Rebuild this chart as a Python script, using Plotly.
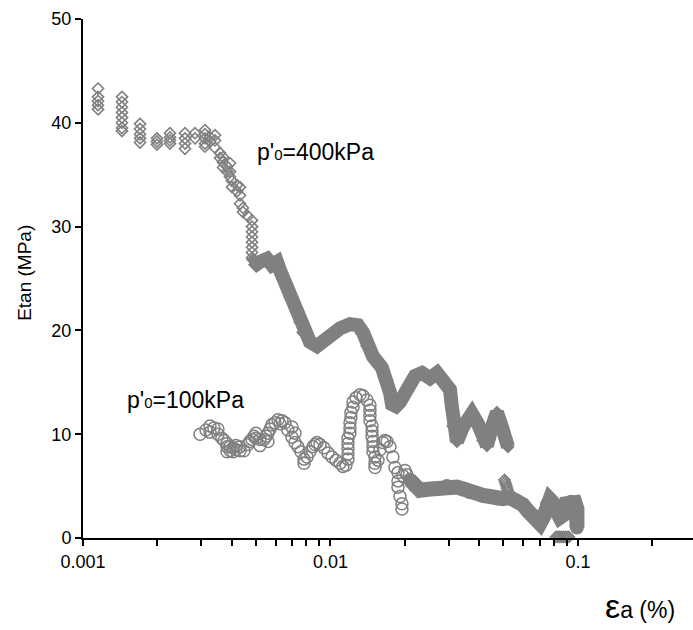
import plotly.graph_objects as go

# ---------------- data ----------------
# p'0 = 400 kPa : individual readings (early, sparse part)
p400_sparse_strain = [
    0.00115, 0.00115, 0.00115, 0.00115, 0.00115,
    0.001437, 0.001437, 0.001437, 0.001437, 0.001437, 0.001437, 0.001437, 0.001437,
    0.0017, 0.0017, 0.0017, 0.0017, 0.0017,
    0.00199, 0.00199, 0.00199,
    0.002246, 0.002246, 0.002246, 0.002246,
    0.002583, 0.002583, 0.002583, 0.002583,
    0.002835, 0.002835,
    0.003111, 0.003111, 0.003111, 0.003111, 0.003111,
    0.00326, 0.00326,
    0.003415, 0.003415, 0.003415,
    0.003577, 0.003577,
    0.003679, 0.003679, 0.003679,
    0.003818, 0.003818,
    0.003926, 0.003926, 0.003926,
    0.0040, 0.0040,
    0.00419, 0.00419,
    0.00431, 0.00431, 0.00431,
    0.00443, 0.00443,
    0.00464,
    0.00482, 0.00482, 0.00482, 0.00482, 0.00482, 0.00482, 0.00482, 0.00482,
    0.0505, 0.0508, 0.0511, 0.0514, 0.0517, 0.0520, 0.0523,
    0.0815, 0.0830, 0.0845, 0.0860, 0.0875, 0.0890, 0.0905, 0.0920,
]
p400_sparse_E = [
    43.3, 42.5, 42.1, 41.7, 41.3,
    42.5, 42.0, 41.5, 41.0, 40.5, 40.0, 39.5, 39.2,
    39.9, 39.4, 38.9, 38.5, 38.1,
    38.5, 38.2, 37.9,
    39.0, 38.6, 38.3, 38.0,
    39.0, 38.5, 38.0, 37.5,
    39.0, 38.5,
    39.3, 38.9, 38.5, 38.0, 37.7,
    38.6, 38.2,
    38.8, 38.3, 37.6,
    37.1, 36.6,
    36.7, 36.2, 35.7,
    35.8, 35.3,
    36.1, 35.3, 34.8,
    34.4, 33.8,
    34.0, 33.4,
    33.8, 33.0, 32.2,
    31.8, 31.4,
    31.0,
    30.6, 30.0, 29.5, 29.0, 28.5, 28.0, 27.5, 27.0,
    5.6, 5.4, 5.2, 5.0, 4.8, 4.6, 4.4,
    0.1, 0.1, 0.1, 0.1, 0.1, 0.1, 0.1, 0.1,
]

# p'0 = 400 kPa : dense part (readings overlap into a continuous band)
p400_dense_strain = [
    0.00486, 0.00505, 0.00519, 0.00554, 0.00580, 0.00608, 0.00625, 0.00655,
    0.00686, 0.00732, 0.00753, 0.00774, 0.00826, 0.00882, 0.00933, 0.00995,
    0.01093, 0.01199, 0.01292, 0.01353, 0.01404, 0.01485, 0.01615, 0.01692,
    0.01740, 0.01772, 0.01839, 0.01910, 0.02038, 0.02195, 0.02343, 0.02523,
    0.02694, 0.02848, 0.03040, 0.03097, 0.03126, 0.03245, 0.03431, 0.03730,
    0.03945, 0.04133, 0.04289, 0.04493, 0.04707, 0.04931, 0.05165, 0.05213,
]
p400_dense_E = [
    26.8, 26.4, 26.6, 26.9, 26.3, 26.6, 25.8, 24.6,
    23.2, 22.0, 20.8, 19.8, 18.9, 18.5, 19.0, 19.6,
    20.2, 20.6, 20.5, 19.8, 18.5, 17.5, 16.4, 15.2,
    14.0, 12.9, 12.7, 13.1, 14.3, 15.6, 15.9, 15.4,
    15.9, 15.2, 14.3, 12.6, 10.8, 9.3, 10.7, 12.0,
    11.0, 9.4, 8.9, 10.7, 12.1, 10.7, 9.2, 8.8,
]

# p'0 = 100 kPa : individual readings
p100_sparse_strain = [
    0.00297, 0.00314, 0.00326, 0.00326, 0.00338, 0.00351, 0.00351, 0.00364,
    0.00372, 0.00382, 0.00382, 0.00382, 0.00393, 0.00393, 0.00404, 0.00404,
    0.00415, 0.00415, 0.00431, 0.00431, 0.00447, 0.00464, 0.00472, 0.00482,
    0.00491, 0.00500, 0.00500, 0.00519, 0.00519, 0.00539, 0.00550, 0.00559,
    0.00559, 0.00570, 0.00580, 0.00597, 0.00614, 0.00625, 0.00637, 0.00655,
    0.00673, 0.00699, 0.00699, 0.00719, 0.00719, 0.00739, 0.00760, 0.00782,
    0.00782, 0.00804, 0.00826, 0.00850, 0.00866, 0.00882, 0.00907, 0.00941,
    0.00977, 0.01014, 0.01053, 0.01093, 0.01123, 0.01155, 0.01177, 0.01177,
    0.01177, 0.01177, 0.01177, 0.01199, 0.01199, 0.01199, 0.01210, 0.01210,
    0.01233, 0.01233, 0.01268, 0.01316, 0.01353, 0.01404, 0.01444, 0.01444,
    0.01444, 0.01444, 0.01472, 0.01472, 0.01472, 0.01485, 0.01485, 0.01485,
    0.01513, 0.01513, 0.01513, 0.01556, 0.01585, 0.01630, 0.01660, 0.01692,
    0.01740, 0.01788, 0.01822, 0.01874, 0.01874, 0.01874, 0.01910, 0.01945,
    0.01945, 0.01964, 0.02000, 0.02038, 0.02095,
]
p100_sparse_E = [
    10.0, 10.4, 10.8, 10.2, 10.6, 10.5, 10.0, 9.6,
    9.4, 9.1, 8.8, 8.3, 8.8, 8.4, 8.3, 8.7,
    8.5, 8.9, 8.8, 8.4, 8.4, 9.0, 9.3, 9.5,
    9.8, 10.1, 9.6, 9.5, 8.9, 9.5, 9.8, 10.1,
    9.3, 10.5, 10.9, 11.1, 11.4, 11.0, 11.3, 11.1,
    10.4, 10.7, 9.7, 10.1, 9.2, 8.8, 8.3, 7.6,
    7.2, 7.8, 8.3, 8.8, 9.0, 9.2, 9.0, 8.7,
    8.2, 7.8, 7.5, 7.2, 6.9, 7.0, 7.6, 8.1,
    8.6, 9.1, 9.6, 10.1, 10.6, 11.1, 11.6, 12.1,
    12.6, 13.1, 13.5, 13.8, 13.7, 13.3, 12.8, 12.3,
    11.8, 11.3, 10.8, 10.3, 9.8, 9.3, 8.8, 8.3,
    7.8, 7.2, 6.8, 7.5, 8.5, 9.2, 9.4, 9.3,
    8.8, 7.8, 6.8, 6.3, 5.5, 4.9, 4.0, 3.3,
    2.8, 6.0, 6.5, 6.1, 5.6,
]

# p'0 = 100 kPa : dense part
p100_dense_strain = [
    0.02095, 0.02195, 0.02299, 0.02477, 0.02694, 0.02956, 0.03245, 0.03463,
    0.03661, 0.03907, 0.04133, 0.04410, 0.04707, 0.04977, 0.05311, 0.05668,
    0.05995, 0.06281, 0.06579, 0.06830, 0.07023, 0.07288, 0.07494, 0.07706,
    0.07850, 0.08073, 0.08457, 0.08697, 0.08943, 0.09370, 0.09725, 0.09908,
    0.09908, 0.09908,
]
p100_dense_E = [
    5.6, 5.0, 4.6, 4.7, 4.8, 5.0, 4.9, 4.7,
    4.4, 4.3, 4.1, 4.0, 3.8, 3.8, 3.9, 3.6,
    3.2, 2.6, 2.2, 1.7, 1.4, 2.1, 3.2, 3.7,
    3.5, 3.0, 2.0, 2.2, 3.3, 3.5, 3.4, 2.8,
    1.6, 1.0,
]

x_tick_vals = [0.001, 0.01, 0.1]
x_tick_text = ["0.001", "0.01", "0.1"]
x_minor_vals = [m * 10.0 ** e for e in (-3, -2, -1) for m in range(2, 10)]
y_tick_vals = [0, 10, 20, 30, 40, 50]

label_400 = "p'<span style=\"font-size:15px\">0</span>=400kPa"
label_100 = "p'<span style=\"font-size:15px\">0</span>=100kPa"

# ---------------- figure ----------------
GRAY = "#808080"
FONT = "Liberation Sans, Arial, sans-serif"

fig = go.Figure()

fig.add_trace(go.Scatter(
    x=p400_dense_strain, y=p400_dense_E, mode="lines+markers",
    line=dict(color=GRAY, width=14),
    marker=dict(symbol="diamond", size=10.5, color=GRAY),
    hoverinfo="skip", showlegend=False,
))
fig.add_trace(go.Scatter(
    x=p400_sparse_strain, y=p400_sparse_E, mode="markers",
    marker=dict(symbol="diamond-open", size=8.5, color=GRAY, line=dict(width=1.6, color=GRAY)),
    cliponaxis=False, showlegend=False,
))
fig.add_trace(go.Scatter(
    x=p100_dense_strain, y=p100_dense_E, mode="lines+markers",
    line=dict(color=GRAY, width=15),
    marker=dict(symbol="circle", size=14, color=GRAY),
    hoverinfo="skip", showlegend=False,
))
fig.add_trace(go.Scatter(
    x=p100_sparse_strain, y=p100_sparse_E, mode="markers",
    marker=dict(symbol="circle-open", size=12, color=GRAY, line=dict(width=1.5, color=GRAY)),
    showlegend=False,
))

fig.update_layout(
    width=693, height=630,
    margin=dict(l=83, r=0, t=19, b=92),
    paper_bgcolor="white", plot_bgcolor="white",
    font=dict(family=FONT, color="black", size=18),
    showlegend=False,
    xaxis=dict(
        type="log", range=[-3, -0.535],
        showline=True, linecolor="black", linewidth=2,
        ticks="outside", ticklen=6, tickwidth=2, tickcolor="black",
        tickmode="array", tickvals=x_tick_vals, ticktext=x_tick_text,
        tickfont=dict(size=18),
        showgrid=False, zeroline=False,
        minor=dict(tickmode="array", tickvals=x_minor_vals, ticks="outside",
                   ticklen=6, tickwidth=2, tickcolor="black", showgrid=False),
    ),
    yaxis=dict(
        range=[0, 50],
        showline=True, linecolor="black", linewidth=2,
        ticks="outside", ticklen=6, tickwidth=2, tickcolor="black",
        tickmode="array", tickvals=y_tick_vals,
        tickfont=dict(size=18),
        showgrid=False, zeroline=False,
    ),
    annotations=[
        dict(text=label_400, xref="paper", yref="paper", x=0.2820, y=0.7437,
             xanchor="left", yanchor="middle", showarrow=False, font=dict(size=23)),
        dict(text=label_100, xref="paper", yref="paper", x=0.0690, y=0.266,
             xanchor="left", yanchor="middle", showarrow=False, font=dict(size=23)),
        dict(text="Etan (MPa)", xref="paper", yref="paper", x=-0.095, y=0.511,
             xanchor="center", yanchor="middle", textangle=-90, showarrow=False,
             font=dict(size=19)),
        dict(text="<span style=\"font-size:34px\">ε</span>a (%)", xref="paper", yref="paper",
             x=0.973, y=-0.131, xanchor="right", yanchor="middle", showarrow=False,
             font=dict(size=23)),
    ],
)

fig.write_html("out.html")
